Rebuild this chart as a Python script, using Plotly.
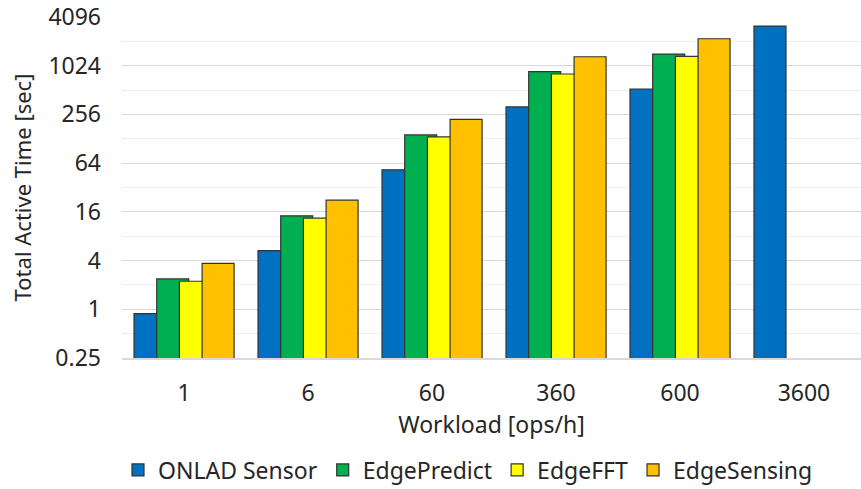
import plotly.graph_objects as go

categories = ["1", "6", "60", "360", "600", "3600"]
onlad_sensor = [0.885, 5.3, 52.9, 317, 528, 3163]
edge_predict = [2.37, 14.3, 143, 864, 1428, None]
edge_fft = [2.22, 13.4, 135, 809, 1334, None]
edge_sensing = [3.69, 22.3, 222, 1322, 2205, None]
series_names = ["ONLAD Sensor", "EdgePredict", "EdgeFFT", "EdgeSensing"]
series_colors = ["#0070C0", "#00B050", "#FFFF00", "#FFC000"]
y_tickvals = [0.25, 1, 4, 16, 64, 256, 1024, 4096]
y_ticktext = ["0.25", "1", "4", "16", "64", "256", "1024", "4096"]
y_minorvals = [0.5, 2, 8, 32, 128, 512, 2048]

# overlapping bar layout (Excel-style overlap), in category units
BAR_W = 0.258
GROUP_START = -0.403
STEP = 0.183

FONT = "Noto Sans"
FS = 23
fig = go.Figure()
for i, (name, vals, col) in enumerate(zip(series_names, [onlad_sensor, edge_predict, edge_fft, edge_sensing], series_colors)):
    fig.add_trace(go.Bar(
        x=categories, y=vals, name=name,
        width=BAR_W, offset=GROUP_START + i * STEP,
        marker=dict(color=col, line=dict(color="#333333", width=1.2)),
    ))

fig.update_layout(
    width=861, height=489,
    margin=dict(l=122, r=0, t=17, b=131, autoexpand=False),
    paper_bgcolor="white", plot_bgcolor="white",
    barmode="overlay",
    font=dict(family=FONT, size=FS, color="#262626"),
    showlegend=True,
    legend=dict(orientation="h", x=468 / 861, xref="container", xanchor="center",
                y=(489 - 470) / 489, yref="container", yanchor="middle",
                font=dict(family=FONT, size=FS, color="#262626"),
                itemwidth=30, tracegroupgap=0),
    xaxis=dict(
        type="category", automargin=False, range=[-0.5, 5.46],
        title=dict(text="Workload [ops/h]", font=dict(size=FS), standoff=10),
        showgrid=False, showline=True, linecolor="#d9d9d9", linewidth=1.5,
        ticks="", ticklabelstandoff=14,
        tickfont=dict(size=FS),
    ),
    yaxis=dict(
        type="log", automargin=False,
        range=[-0.60206, 3.61236],
        tickvals=y_tickvals, ticktext=y_ticktext,
        title=dict(text="Total Active Time [sec]", font=dict(size=22), standoff=10),
        showgrid=True, gridcolor="#d9d9d9", gridwidth=1.2,
        zeroline=False, showline=False, ticks="",
        ticklabelstandoff=20,
        tickfont=dict(size=FS),
        minor=dict(tickvals=y_minorvals, showgrid=True, gridcolor="#eeeeee", gridwidth=1.2),
    ),
)

fig.write_html("out.html", config={"displayModeBar": False},
               post_script="document.body.style.margin='0';document.body.style.padding='0';document.body.style.overflow='hidden';")
